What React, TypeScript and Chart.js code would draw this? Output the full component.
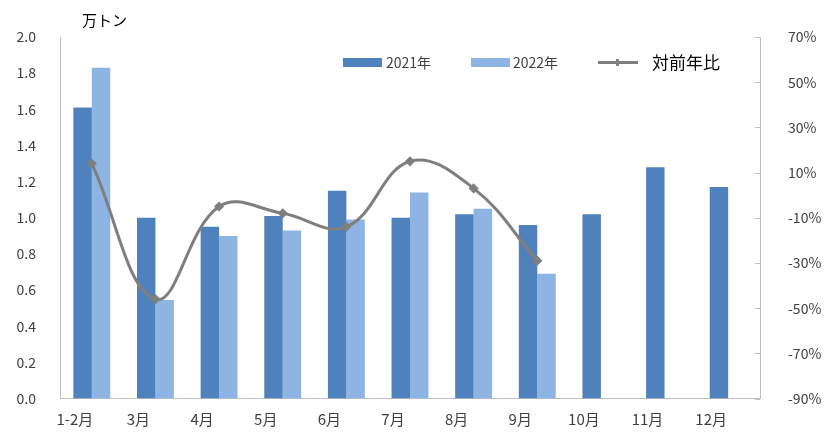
import React, { useEffect, useRef } from "react";
import { Chart, registerables } from "chart.js";

Chart.register(...registerables);

const categories = ["1-2月", "3月", "4月", "5月", "6月", "7月", "8月", "9月", "10月", "11月", "12月"];
const values2021 = [1.61, 1.0, 0.95, 1.01, 1.15, 1.0, 1.02, 0.96, 1.02, 1.28, 1.17];
const values2022 = [1.83, 0.545, 0.9, 0.93, 0.99, 1.14, 1.05, 0.69, null, null, null];
const yoyPercent = [14, -46, -5, -8, -14, 15, 3, -29, null, null, null];
const leftTicks = { min: 0, max: 2.0, step: 0.2 };
const rightTicks = { min: -90, max: 70, step: 20 };

const DARK = "#4f81bd";
const LIGHT = "#8db4e2";
const GRAY = "#7f7f7f";
const AXIS = "#bfbfbf";
const FONT = "'Noto Sans CJK JP', 'Noto Sans', sans-serif";

const rightTickMarks = {
  id: "rightTickMarks",
  afterDraw(chart: any) {
    const s = chart.scales.y1;
    const ctx = chart.ctx;
    ctx.save();
    ctx.strokeStyle = AXIS;
    ctx.lineWidth = 1;
    s.ticks.forEach((t: any) => {
      const y = Math.round(s.getPixelForValue(t.value)) + 0.5;
      ctx.beginPath();
      ctx.moveTo(s.left, y);
      ctx.lineTo(s.left - 5, y);
      ctx.stroke();
    });
    ctx.restore();
  },
};

export default function App() {
  const ref = useRef<HTMLCanvasElement | null>(null);
  useEffect(() => {
    if (!ref.current) return;
    const chart = new Chart(ref.current, {
      type: "bar",
      data: {
        labels: categories,
        datasets: [
          {
            type: "line",
            label: "対前年比",
            data: yoyPercent as any,
            yAxisID: "y1",
            borderColor: GRAY,
            backgroundColor: GRAY,
            borderWidth: 3,
            tension: 0.4,
            pointStyle: "rectRot",
            pointRadius: 3,
            spanGaps: false,
            order: 0,
          } as any,
          {
            label: "2021年",
            data: values2021,
            backgroundColor: DARK,
            yAxisID: "y",
            categoryPercentage: 0.58,
            barPercentage: 1.0,
            order: 1,
          },
          {
            label: "2022年",
            data: values2022 as any,
            backgroundColor: LIGHT,
            yAxisID: "y",
            categoryPercentage: 0.58,
            barPercentage: 1.0,
            order: 1,
          },
        ],
      },
      options: {
        animation: false,
        responsive: false,
        maintainAspectRatio: false,
        layout: { padding: { top: 37, left: 0, right: 0, bottom: 0 } },
        plugins: { legend: { display: false }, tooltip: { enabled: false }, title: { display: false } },
        scales: {
          x: {
            type: "category",
            offset: true,
            grid: { display: false, drawTicks: false },
            border: { display: true, color: AXIS, width: 1 },
            ticks: { color: "#404040", font: { family: FONT, size: 15 }, padding: 12, maxRotation: 0, labelOffset: -17 },
            afterFit: (s: any) => { s.height = 35; },
          },
          y: {
            position: "left",
            min: leftTicks.min,
            max: leftTicks.max,
            grid: { display: false, drawTicks: false },
            border: { display: true, color: AXIS, width: 1 },
            ticks: {
              stepSize: leftTicks.step,
              color: "#404040",
              font: { family: FONT, size: 14 },
              padding: 24,
              callback: (v: any) => Number(v).toFixed(1),
            },
            afterFit: (s: any) => { s.width = 60; },
          },
          y1: {
            position: "right",
            min: rightTicks.min,
            max: rightTicks.max,
            grid: { display: false, drawTicks: false },
            border: { display: true, color: AXIS, width: 1 },
            ticks: {
              stepSize: rightTicks.step,
              color: "#404040",
              font: { family: FONT, size: 14 },
              padding: 28,
              callback: (v: any) => `${v}%`,
            },
            afterFit: (s: any) => { s.width = 64; },
          },
        },
      },
      plugins: [rightTickMarks],
    } as any);
    return () => chart.destroy();
  }, []);

  const legendText: React.CSSProperties = { position: "absolute", fontFamily: FONT, fontSize: 14, color: "#404040", lineHeight: "20px", top: 52 };
  return (
    <div style={{ position: "fixed", left: 0, top: 0, width: 824, height: 435, background: "#fff" }}>
      <canvas ref={ref} width={824} height={435} style={{ position: "absolute", left: 0, top: 0, width: 824, height: 435 }} />
      <div style={{ position: "absolute", left: 82, top: 9, fontFamily: FONT, fontSize: 15, color: "#000", lineHeight: "22px" }}>万トン</div>
      <div style={{ position: "absolute", left: 343, top: 58, width: 39, height: 9, background: DARK }} />
      <div style={{ ...legendText, left: 386 }}>2021年</div>
      <div style={{ position: "absolute", left: 471, top: 58, width: 39, height: 9, background: LIGHT }} />
      <div style={{ ...legendText, left: 513 }}>2022年</div>
      <div style={{ position: "absolute", left: 598, top: 61, width: 40, height: 3, background: GRAY }} />
      <div style={{ position: "absolute", left: 616, top: 59, width: 3, height: 7, background: GRAY }} />
      <div style={{ position: "absolute", left: 652, top: 50, fontFamily: FONT, fontSize: 17, color: "#000", lineHeight: "24px" }}>対前年比</div>
    </div>
  );
}
